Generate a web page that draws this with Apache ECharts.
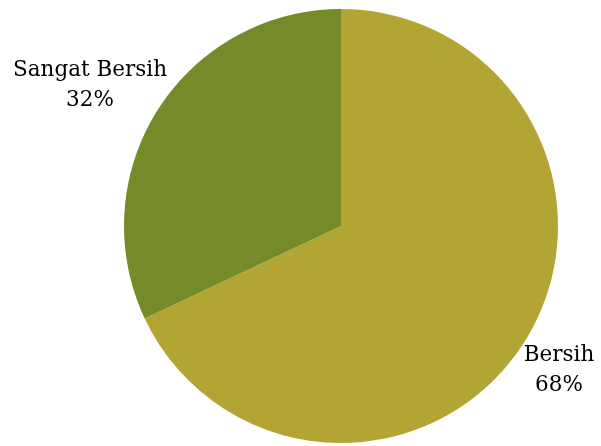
<!DOCTYPE html>
<html>
<head>
<meta charset="utf-8">
<script src="https://cdn.jsdelivr.net/npm/echarts@6/dist/echarts.min.js"></script>
<style>
  html, body { margin: 0; padding: 0; background: #ffffff; }
  #chart { width: 601px; height: 446px; }
</style>
</head>
<body>
<div id="chart"></div>
<script>
// Share of respondents by cleanliness rating
const categories = ['Bersih', 'Sangat Bersih'];
const percentages = [68, 32];
const sliceColors = ['#b3a534', '#758a28'];

// Where each label's text block is centred
const labelCentres = [[559, 370], [90, 85]];

const chart = echarts.init(document.getElementById('chart'), null, { renderer: 'canvas' });

chart.setOption({
  animation: false,
  series: [{
    type: 'pie',
    center: [341, 226],
    radius: 217,
    startAngle: 90,
    clockwise: true,
    avoidLabelOverlap: false,
    itemStyle: { borderWidth: 0 },
    emphasis: { disabled: true },
    labelLine: { show: false },
    label: {
      show: true,
      position: 'outside',
      formatter: p => p.name + '\n' + p.value + '%',
      fontFamily: 'DejaVu Serif',
      fontSize: 21.5,
      lineHeight: 30,
      color: '#000000',
      align: 'center'
    },
    labelLayout: params => ({
      x: labelCentres[params.dataIndex][0],
      y: labelCentres[params.dataIndex][1],
      align: 'center',
      verticalAlign: 'middle'
    }),
    data: categories.map((name, i) => ({
      name,
      value: percentages[i],
      itemStyle: { color: sliceColors[i] }
    }))
  }]
});
</script>
</body>
</html>
